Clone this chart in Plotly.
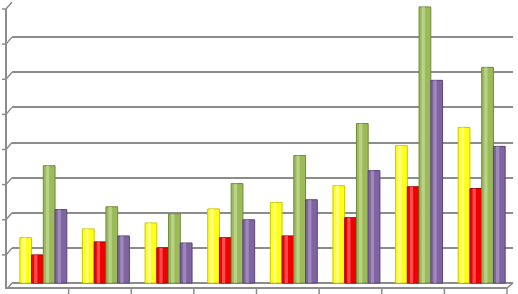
import plotly.graph_objects as go

categories = ["1", "2", "3", "4", "5", "6", "7", "8"]
yellow = [1.29, 1.54, 1.71, 2.11, 2.29, 2.77, 3.91, 4.43]
red = [0.80, 1.17, 1.00, 1.29, 1.34, 1.86, 2.74, 2.69]
green = [3.34, 2.17, 1.97, 2.83, 3.63, 4.54, 7.86, 6.14]
purple = [2.09, 1.34, 1.14, 1.80, 2.37, 3.20, 5.77, 3.89]

series = [
    (yellow, "#FFFF1A", "#C8C800", "#FFFFC8"),
    (red, "#F00000", "#A00000", "#FF8080"),
    (green, "#9BBB59", "#6E8A3A", "#CDE0A8"),
    (purple, "#8064A2", "#5A4478", "#B3A2CC"),
]

W, H = 518, 294
ML, MR, MT, MB = 12, 5, 2, 6
PW = W - ML - MR
PH = H - MT - MB
grid_vals = list(range(0, 9))
YMIN, YMAX = -0.142, 8
BARGAP = 0.25

fig = go.Figure()
for vals, col, edge, hl in series:
    fig.add_trace(go.Bar(x=categories, y=vals, hoverinfo="skip",
                         marker=dict(color=col, line=dict(color=edge, width=1))))

# cylinder highlight (style overlay on the same values)
slot = (1 - BARGAP) / len(series)
for i, (vals, col, edge, hl) in enumerate(series):
    left = -(1 - BARGAP) / 2 + i * slot
    fig.add_trace(go.Bar(x=categories, y=vals, xaxis="x2", hoverinfo="skip",
                         width=slot * 0.28, offset=left + slot * 0.22,
                         marker=dict(color=hl, opacity=0.6, line=dict(width=0))))

def px(p):
    return (p - ML) / PW

def py(p):
    return (H - MB - p) / PH

axis_col = "#8C8C8C"
shapes = []
unit = PH / (YMAX - YMIN)
off = 7 / unit
for v in grid_vals:
    shapes.append(dict(type="line", xref="paper", yref="y", x0=px(6), x1=px(12), y0=v - off, y1=v,
                       line=dict(color=axis_col, width=1.5)))
    shapes.append(dict(type="line", xref="paper", yref="y", x0=px(2), x1=px(6), y0=v - off, y1=v - off,
                       line=dict(color=axis_col, width=1.5)))
shapes.append(dict(type="line", xref="paper", yref="paper", x0=px(6), x1=px(6), y0=py(289), y1=py(9),
                   line=dict(color=axis_col, width=2)))
shapes.append(dict(type="line", xref="paper", yref="paper", x0=px(6), x1=px(507), y0=py(288), y1=py(288),
                   line=dict(color=axis_col, width=2)))
shapes.append(dict(type="line", xref="paper", yref="paper", x0=px(507), x1=px(513), y0=py(288), y1=py(283),
                   line=dict(color=axis_col, width=1.5)))
step = (507 - 6) / len(categories)
for k in range(1, len(categories) + 1):
    xx = 6 + step * k
    shapes.append(dict(type="line", xref="paper", yref="paper", x0=px(xx), x1=px(xx), y0=py(288), y1=py(294),
                       line=dict(color=axis_col, width=1.5)))

xaxis_common = dict(type="category", range=[-0.5, 7.5], showticklabels=False, showgrid=False,
                    zeroline=False, showline=False, ticks="")
fig.update_layout(
    width=W, height=H,
    margin=dict(l=ML, r=MR, t=MT, b=MB),
    paper_bgcolor="white", plot_bgcolor="white",
    barmode="group", bargap=BARGAP, bargroupgap=0,
    showlegend=False,
    xaxis=xaxis_common,
    xaxis2=dict(overlaying="x", **xaxis_common),
    yaxis=dict(range=[YMIN, YMAX], tick0=0, dtick=1, showgrid=True, gridcolor=axis_col, gridwidth=1.5,
               zeroline=False, showline=False, showticklabels=False, ticks=""),
    shapes=shapes,
)

fig.write_html("out.html", config={"displayModeBar": False},
               post_script="document.body.style.margin='0';document.body.style.overflow='hidden';")
